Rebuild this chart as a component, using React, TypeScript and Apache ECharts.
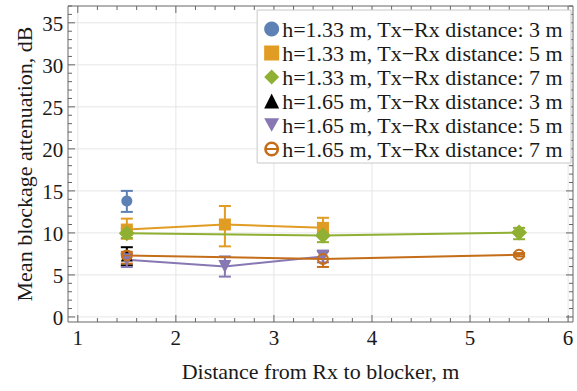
import React, { useEffect, useRef } from "react";
import * as echarts from "echarts";

// ---------- data ----------
const seriesNames = [
  "h=1.33 m, Tx\u2212Rx distance: 3 m",
  "h=1.33 m, Tx\u2212Rx distance: 5 m",
  "h=1.33 m, Tx\u2212Rx distance: 7 m",
  "h=1.65 m, Tx\u2212Rx distance: 3 m",
  "h=1.65 m, Tx\u2212Rx distance: 5 m",
  "h=1.65 m, Tx\u2212Rx distance: 7 m",
];

const xA = [1.5];
const meanA = [13.8];
const lowA = [12.5];
const highA = [15.0];

const xB = [1.5, 2.5, 3.5];
const meanB = [10.4, 11.0, 10.6];
const lowB = [9.3, 8.4, 9.6];
const highB = [11.7, 13.2, 11.8];

const xC = [1.5, 3.5, 5.5];
const meanC = [9.95, 9.7, 10.05];
const lowC = [9.4, 8.9, 9.25];
const highC = [10.5, 10.4, 10.6];

const xD = [1.5];
const meanD = [7.3];
const lowD = [6.15];
const highD = [8.3];

const xE = [1.5, 2.5, 3.5];
const meanE = [6.8, 6.0, 7.2];
const lowE = [5.95, 4.8, 6.5];
const highE = [7.45, 7.2, 7.9];

const xF = [1.5, 3.5, 5.5];
const meanF = [7.3, 6.9, 7.4];
const lowF = [6.35, 5.95, 7.2];
const highF = [7.75, 7.8, 7.6];

const xTickLabels = [1, 2, 3, 4, 5, 6];
const yTickLabels = [0, 5, 10, 15, 20, 25, 30, 35];

// ---------- styling ----------
const colors = ["#5E81B5", "#E19C24", "#8FB032", "#000000", "#8778B3", "#C56E1A"];
const ringPath =
  "path://M10,0A10,10,0,1,1,10,20A10,10,0,1,1,10,0Z M3.61,8.8L16.39,8.8A6.5,6.5,0,0,0,3.61,8.8Z M16.39,11.2L3.61,11.2A6.5,6.5,0,0,0,16.39,11.2Z";
const downTri = "path://M0,0L20,0L10,18Z";
const symbols = ["circle", "rect", "diamond", "triangle", downTri, ringPath];
const symbolSizes = [11, 12, 16, 12, 13, 12];
const legendIcons = ["circle", "rect", "diamond", "triangle", downTri, ringPath];

const X_MIN = 0.9, X_MAX = 6.05, Y_MIN = -0.6, Y_MAX = 37;
const FONT = "Liberation Serif";
const FRAME = "#666666";

function errorRender(color: string) {
  return (params: any, api: any) => {
    const x = api.value(0), lo = api.value(1), hi = api.value(2);
    const p1 = api.coord([x, lo]);
    const p2 = api.coord([x, hi]);
    const hw = 6;
    const style = { stroke: color, lineWidth: 2 };
    return {
      type: "group",
      children: [
        { type: "line", shape: { x1: p1[0], y1: p1[1], x2: p2[0], y2: p2[1] }, style },
        { type: "line", shape: { x1: p1[0] - hw, y1: p1[1], x2: p1[0] + hw, y2: p1[1] }, style },
        { type: "line", shape: { x1: p2[0] - hw, y1: p2[1], x2: p2[0] + hw, y2: p2[1] }, style },
      ],
    };
  };
}

function range(a: number, b: number, step: number) {
  const out: number[] = [];
  for (let v = a; v <= b + 1e-9; v += step) out.push(Math.round(v * 1000) / 1000);
  return out;
}

function gridRender(params: any, api: any) {
  if (params.dataIndex !== 0) return null;
  const tl = api.coord([X_MIN, Y_MAX]);
  const br = api.coord([X_MAX, Y_MIN]);
  const children: any[] = [];
  const gs = { stroke: "#e6e6e6", lineWidth: 1 };
  xTickLabels.forEach((v) => {
    const p = api.coord([v, 0]);
    children.push({ type: "line", shape: { x1: p[0], y1: tl[1], x2: p[0], y2: br[1] }, style: gs });
  });
  yTickLabels.forEach((v) => {
    const p = api.coord([1, v]);
    children.push({ type: "line", shape: { x1: tl[0], y1: p[1], x2: br[0], y2: p[1] }, style: gs });
  });
  return { type: "group", children, silent: true };
}

function frameRender(params: any, api: any) {
  if (params.dataIndex !== 0) return null;
  const tl = api.coord([X_MIN, Y_MAX]);
  const br = api.coord([X_MAX, Y_MIN]);
  const L = tl[0], T = tl[1], R = br[0], B = br[1];
  const fs = { stroke: FRAME, lineWidth: 1 };
  const children: any[] = [
    { type: "rect", shape: { x: L, y: T, width: R - L, height: B - T }, style: { fill: "none", stroke: FRAME, lineWidth: 1 } },
  ];
  const xMinor = range(1, 6, 0.2).filter((v) => !xTickLabels.includes(v));
  const yMinor = range(0, 37, 1).filter((v) => !yTickLabels.includes(v));
  const xTick = (v: number, len: number) => {
    const x = api.coord([v, 0])[0];
    children.push({ type: "line", shape: { x1: x, y1: B, x2: x, y2: B - len }, style: fs });
    children.push({ type: "line", shape: { x1: x, y1: T, x2: x, y2: T + len }, style: fs });
  };
  const yTick = (v: number, len: number) => {
    const y = api.coord([1, v])[1];
    children.push({ type: "line", shape: { x1: L, y1: y, x2: L + len, y2: y }, style: fs });
    children.push({ type: "line", shape: { x1: R, y1: y, x2: R - len, y2: y }, style: fs });
  };
  xMinor.forEach((v) => xTick(v, 4));
  yMinor.forEach((v) => yTick(v, 4));
  xTickLabels.forEach((v) => {
    xTick(v, 7);
    const x = api.coord([v, 0])[0];
    children.push({
      type: "text",
      style: { text: String(v), x, y: B + 16, align: "center", verticalAlign: "middle", fill: "#1a1a1a", font: `21px ${FONT}` },
    });
  });
  yTickLabels.forEach((v) => {
    yTick(v, 7);
    const y = api.coord([1, v])[1];
    children.push({
      type: "text",
      style: { text: String(v), x: L - 4.7, y: y + 1, align: "right", verticalAlign: "middle", fill: "#1a1a1a", font: `21px ${FONT}` },
    });
  });
  return { type: "group", children, silent: true };
}

const groups = [
  { x: xA, m: meanA, lo: lowA, hi: highA },
  { x: xB, m: meanB, lo: lowB, hi: highB },
  { x: xC, m: meanC, lo: lowC, hi: highC },
  { x: xD, m: meanD, lo: lowD, hi: highD },
  { x: xE, m: meanE, lo: lowE, hi: highE },
  { x: xF, m: meanF, lo: lowF, hi: highF },
];

export default function App() {
  const ref = useRef<HTMLDivElement>(null);
  useEffect(() => {
    if (!ref.current) return;
    const chart = echarts.init(ref.current, null, { renderer: "svg" });
    const series: any[] = [
      {
        type: "custom",
        name: "__grid",
        renderItem: gridRender,
        data: [[1, 1]],
        encode: { x: 0, y: 1 },
        z: 0,
        silent: true,
      },
    ];
    groups.forEach((g, i) => {
      series.push({
        type: "custom",
        name: "__err" + i,
        renderItem: errorRender(colors[i]),
        data: g.x.map((x, k) => [x, g.lo[k], g.hi[k]]),
        encode: { x: 0, y: [1, 2] },
        z: 2,
      });
      series.push({
        type: "line",
        name: seriesNames[i],
        data: g.x.map((x, k) => [x, g.m[k]]),
        symbol: symbols[i],
        symbolSize: symbolSizes[i],
        showAllSymbol: true,
        lineStyle: { color: colors[i], width: 2 },
        itemStyle: { color: colors[i] },
        z: 3,
      });
    });
    series.push({
      type: "custom",
      name: "__frame",
      renderItem: frameRender,
      data: [[1, 1]],
      encode: { x: 0, y: 1 },
      z: 5,
      silent: true,
    });

    chart.setOption({
      animation: false,
      backgroundColor: "#ffffff",
      textStyle: { fontFamily: FONT },
      grid: { left: 68, right: 4, top: 6, bottom: 69, containLabel: false },
      xAxis: {
        type: "value",
        min: X_MIN,
        max: X_MAX,
        axisLine: { show: false },
        axisTick: { show: false },
        axisLabel: { show: false },
        splitLine: { show: false },
        name: "Distance from Rx to blocker, m",
        nameLocation: "middle",
        nameGap: 38,
        nameTextStyle: { fontFamily: FONT, fontSize: 22, color: "#1a1a1a" },
      },
      yAxis: {
        type: "value",
        min: Y_MIN,
        max: Y_MAX,
        axisLine: { show: false },
        axisTick: { show: false },
        axisLabel: { show: false },
        splitLine: { show: false },
        name: "Mean blockage attenuation, dB",
        nameLocation: "middle",
        nameGap: 33,
        nameTextStyle: { fontFamily: FONT, fontSize: 22, color: "#1a1a1a" },
      },
      legend: {
        orient: "vertical",
        right: 6,
        top: 10,
        data: seriesNames.map((n, i) => ({ name: n, icon: legendIcons[i] })),
        itemWidth: 15,
        itemHeight: 15,
        itemGap: 2,
        itemStyle: { borderWidth: 0 },
        lineStyle: { width: 0 },
        padding: [8, 8, 3, 7],
        backgroundColor: "#ffffff",
        borderColor: "#c8c8c8",
        borderWidth: 1,
        selectedMode: false,
        textStyle: { fontFamily: FONT, fontSize: 22, color: "#1a1a1a", padding: [0, 0, 0, -2], lineHeight: 22 },
        z: 10,
      },
      series,
    });
    return () => chart.dispose();
  }, []);
  return (
    <div
      ref={ref}
      style={{ position: "fixed", left: 0, top: 0, width: 577, height: 391, background: "#fff" }}
    />
  );
}
